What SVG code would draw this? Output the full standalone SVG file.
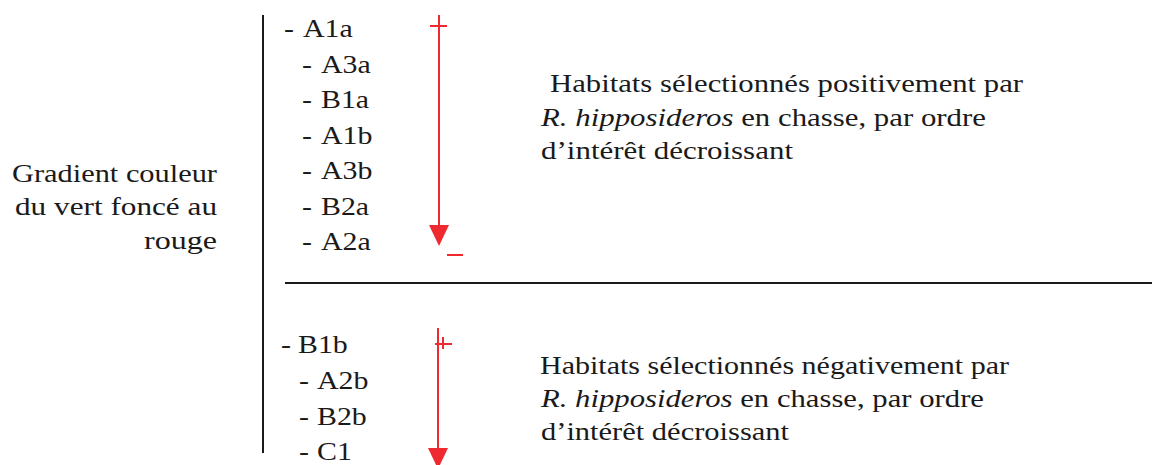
<svg xmlns="http://www.w3.org/2000/svg" width="1152" height="465" viewBox="0 0 1152 465" font-family="Times New Roman, Liberation Serif, Tinos, serif">
<style>
.t{font-family:"Times New Roman","Liberation Serif",Tinos,serif;font-size:26px;fill:#1a1a1a}
.it{font-style:italic}
.blk{stroke:#1a1a1a;stroke-width:2;fill:none}
.red{stroke:#ee2a30;stroke-width:2;fill:none}
.head{fill:#ee2a30;stroke:none}
</style>
<rect width="1152" height="465" fill="#ffffff"/>
<g id="label-gradient">
<text class="t" font-family="Times New Roman" x="12" y="182" textLength="205" lengthAdjust="spacingAndGlyphs">Gradient couleur</text>
<text class="t" font-family="Times New Roman" x="15" y="215" textLength="202" lengthAdjust="spacingAndGlyphs">du vert foncé au</text>
<text class="t" font-family="Times New Roman" x="144" y="249" textLength="73" lengthAdjust="spacingAndGlyphs">rouge</text>
</g>
<g id="list-positive" transform="scale(1.15 1)">
<text class="t" font-family="Times New Roman" x="246.96" y="37">-<tspan x="263.48">A1a</tspan></text>
<text class="t" font-family="Times New Roman" x="262.61" y="73">-<tspan x="279.13">A3a</tspan></text>
<text class="t" font-family="Times New Roman" x="262.61" y="108">-<tspan x="279.13">B1a</tspan></text>
<text class="t" font-family="Times New Roman" x="262.61" y="144">-<tspan x="279.13">A1b</tspan></text>
<text class="t" font-family="Times New Roman" x="262.61" y="179">-<tspan x="279.13">A3b</tspan></text>
<text class="t" font-family="Times New Roman" x="262.61" y="215">-<tspan x="279.13">B2a</tspan></text>
<text class="t" font-family="Times New Roman" x="262.61" y="250">-<tspan x="279.13">A2a</tspan></text>
</g>
<g id="list-negative" transform="scale(1.15 1)">
<text class="t" font-family="Times New Roman" x="244.35" y="353">-<tspan x="259.13">B1b</tspan></text>
<text class="t" font-family="Times New Roman" x="260" y="389">-<tspan x="275.65">A2b</tspan></text>
<text class="t" font-family="Times New Roman" x="260" y="425">-<tspan x="275.65">B2b</tspan></text>
<text class="t" font-family="Times New Roman" x="260" y="460">-<tspan x="275.65">C1</tspan></text>
</g>
<g id="desc-positive">
<text class="t" font-family="Times New Roman" x="550" y="92" textLength="473" lengthAdjust="spacingAndGlyphs">Habitats sélectionnés positivement par</text>
<text class="t" font-family="Times New Roman" x="541" y="126" textLength="445" lengthAdjust="spacingAndGlyphs"><tspan class="it">R. hipposideros</tspan> en chasse, par ordre</text>
<text class="t" font-family="Times New Roman" x="541" y="159" textLength="252" lengthAdjust="spacingAndGlyphs">d’intérêt décroissant</text>
</g>
<g id="desc-negative">
<text class="t" font-family="Times New Roman" x="540" y="374" textLength="469" lengthAdjust="spacingAndGlyphs">Habitats sélectionnés négativement par</text>
<text class="t" font-family="Times New Roman" x="541" y="407" textLength="443" lengthAdjust="spacingAndGlyphs"><tspan class="it">R. hipposideros</tspan> en chasse, par ordre</text>
<text class="t" font-family="Times New Roman" x="541" y="440" textLength="248" lengthAdjust="spacingAndGlyphs">d’intérêt décroissant</text>
</g>
<g id="connectors">
<line class="blk" x1="263" y1="15" x2="263" y2="453"/>
<line class="blk" x1="285" y1="283" x2="1152" y2="283"/>
<line class="red" x1="439" y1="15" x2="439" y2="228"/>
<polygon class="head" points="429,225 449,225 439,246"/>
<line class="red" x1="430" y1="26" x2="447" y2="26"/>
<line class="red" x1="447" y1="255" x2="463" y2="255"/>
<line class="red" x1="438" y1="328" x2="438" y2="451"/>
<polygon class="head" points="428,448 448,448 438,469"/>
<line class="red" x1="435" y1="344" x2="452" y2="344"/>
<line class="red" x1="443" y1="337" x2="443" y2="349" stroke-width="1.5"/>
</g>
</svg>
